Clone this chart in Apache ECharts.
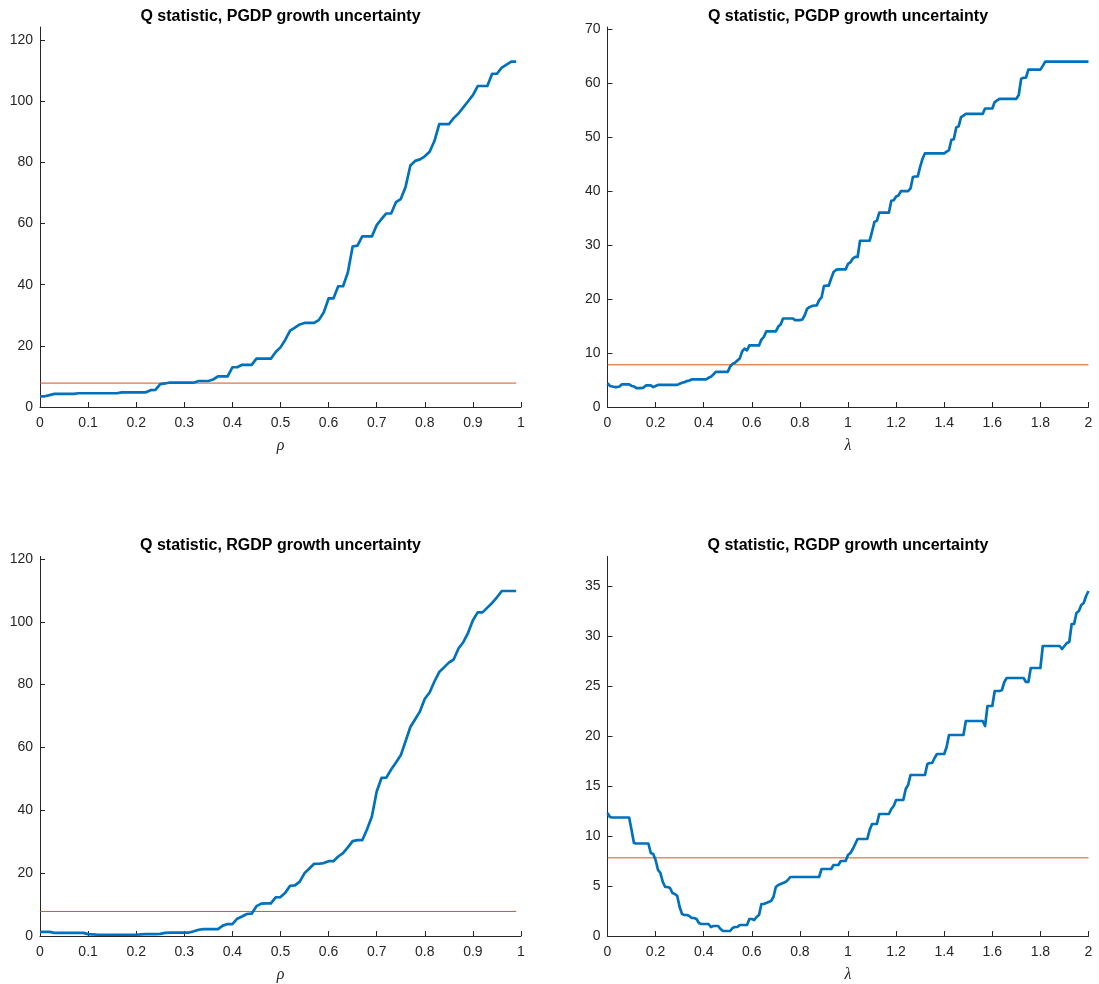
<!DOCTYPE html>
<html>
<head>
<meta charset="utf-8">
<script src="https://cdn.jsdelivr.net/npm/echarts@6/dist/echarts.min.js"></script>
<style>
  html, body { margin: 0; padding: 0; background: #ffffff; }
  #chart { width: 1099px; height: 984px; }
</style>
</head>
<body>
<div id="chart"></div>
<script>
// Q statistic as a function of the smoothing parameter, for two uncertainty measures.
// rho grid: 0, 0.01, ..., 0.99 ; lambda grid: 0, 0.01, ..., 2
const rhoStep = 0.01;
const lambdaStep = 0.01;

// 5% critical value of the Q statistic
const criticalValue = 7.815;

const pgdpRho = [
  3.5, 3.5, 3.9, 4.3, 4.3, 4.3, 4.3, 4.3, 4.5, 4.5,
  4.5, 4.5, 4.5, 4.5, 4.5, 4.5, 4.5, 4.8, 4.8, 4.8,
  4.8, 4.8, 4.8, 5.5, 5.6, 7.5, 7.7, 8.0, 8.0, 8.0,
  8.0, 8.0, 8.0, 8.5, 8.5, 8.5, 9.0, 10.0, 10.0, 10.0,
  13.0, 13.0, 13.8, 13.8, 13.8, 15.8, 15.8, 15.8, 15.8, 18.0,
  19.5, 22.0, 25.0, 26.0, 27.0, 27.5, 27.5, 27.5, 28.5, 31.0,
  35.5, 35.5, 39.5, 39.5, 44.0, 52.5, 52.8, 55.8, 55.8, 55.8,
  59.5, 61.5, 63.3, 63.3, 67.0, 68.0, 72.0, 79.0, 80.5, 81.0,
  82.0, 83.5, 87.0, 92.5, 92.5, 92.5, 94.5, 96.0, 98.0, 100.0,
  102.0, 105.0, 105.0, 105.0, 109.0, 109.0, 111.0, 112.0, 113.0, 113.0
];

const pgdpLambda = [
  4.4, 3.9, 3.8, 3.7, 3.7, 3.8, 4.2, 4.2, 4.2, 4.2,
  3.9, 3.8, 3.5, 3.5, 3.5, 3.6, 4.0, 4.0, 4.0, 3.7,
  3.9, 4.1, 4.1, 4.1, 4.1, 4.1, 4.1, 4.1, 4.1, 4.1,
  4.3, 4.5, 4.6, 4.8, 4.9, 5.1, 5.1, 5.1, 5.1, 5.1,
  5.1, 5.1, 5.4, 5.6, 6.0, 6.5, 6.5, 6.5, 6.5, 6.5,
  6.5, 7.5, 8.0, 8.2, 8.6, 9.0, 10.3, 10.8, 10.5, 11.4,
  11.4, 11.4, 11.4, 11.4, 12.5, 13.0, 14.0, 14.0, 14.0, 14.0,
  14.0, 14.9, 15.3, 16.4, 16.4, 16.4, 16.4, 16.4, 16.1, 16.1,
  16.1, 16.2, 17.0, 18.2, 18.5, 18.7, 18.8, 18.8, 19.8, 20.3,
  22.4, 22.5, 22.5, 23.8, 25.0, 25.4, 25.5, 25.5, 25.5, 25.5,
  26.5, 26.8, 27.5, 27.8, 27.8, 30.8, 30.8, 30.8, 30.8, 30.8,
  32.5, 34.3, 34.5, 36.0, 36.0, 36.0, 36.0, 36.0, 38.2, 38.3,
  39.0, 39.2, 40.0, 40.0, 40.0, 40.0, 40.5, 42.6, 42.7, 42.7,
  44.5, 46.0, 47.0, 47.0, 47.0, 47.0, 47.0, 47.0, 47.0, 47.0,
  47.0, 47.3, 47.6, 49.5, 49.6, 51.8, 52.0, 53.7, 54.0, 54.3,
  54.3, 54.3, 54.3, 54.3, 54.3, 54.3, 54.3, 55.3, 55.3, 55.3,
  55.3, 56.5, 56.8, 57.1, 57.1, 57.1, 57.1, 57.1, 57.1, 57.1,
  57.1, 57.8, 60.8, 61.0, 61.0, 62.5, 62.5, 62.5, 62.5, 62.5,
  62.5, 63.2, 64.0, 64.0, 64.0, 64.0, 64.0, 64.0, 64.0, 64.0,
  64.0, 64.0, 64.0, 64.0, 64.0, 64.0, 64.0, 64.0, 64.0, 64.0,
  64.0
];

const rgdpRho = [
  1.3, 1.3, 1.3, 1.0, 1.0, 1.0, 1.0, 1.0, 1.0, 1.0,
  0.6, 0.5, 0.4, 0.4, 0.4, 0.4, 0.4, 0.4, 0.4, 0.4,
  0.4, 0.5, 0.6, 0.6, 0.6, 0.7, 1.0, 1.1, 1.1, 1.1,
  1.1, 1.1, 1.5, 2.0, 2.2, 2.2, 2.2, 2.2, 3.3, 3.8,
  3.8, 5.5, 6.2, 7.0, 7.1, 9.5, 10.3, 10.4, 10.4, 12.3,
  12.4, 13.8, 16.0, 16.1, 17.3, 20.0, 21.5, 23.0, 23.0, 23.2,
  23.8, 23.8, 25.3, 26.4, 28.2, 30.2, 30.5, 30.5, 34.0, 38.0,
  46.0, 50.3, 50.4, 53.0, 55.2, 57.5, 62.0, 66.5, 69.0, 71.5,
  75.5, 77.5, 81.0, 84.0, 85.5, 87.0, 88.0, 91.5, 93.5, 96.5,
  100.5, 103.0, 103.0, 104.5, 106.0, 107.8, 109.8, 109.8, 109.8, 109.8
];

const rgdpLambda = [
  12.3, 11.9, 11.85, 11.85, 11.85, 11.85, 11.85, 11.85, 11.85, 11.85,
  10.6, 9.3, 9.25, 9.25, 9.25, 9.25, 9.25, 9.25, 8.3, 8.2,
  7.6, 6.6, 6.3, 5.4, 4.9, 4.9, 4.8, 4.3, 4.2, 4.0,
  2.9, 2.2, 2.1, 2.1, 2.0, 1.8, 1.8, 1.7, 1.3, 1.2,
  1.2, 1.2, 1.2, 0.9, 1.0, 1.0, 1.0, 0.7, 0.5, 0.5,
  0.5, 0.5, 0.8, 0.9, 0.9, 1.1, 1.1, 1.1, 1.1, 1.7,
  1.7, 1.6, 1.9, 2.1, 3.2, 3.2, 3.3, 3.4, 3.5, 3.9,
  4.9, 5.1, 5.2, 5.3, 5.4, 5.6, 5.9, 5.9, 5.9, 5.9,
  5.9, 5.9, 5.9, 5.9, 5.9, 5.9, 5.9, 5.9, 5.9, 6.7,
  6.7, 6.7, 6.7, 6.7, 7.1, 7.1, 7.1, 7.5, 7.5, 7.5,
  8.1, 8.3, 8.7, 9.2, 9.7, 9.7, 9.7, 9.7, 9.7, 10.6,
  11.2, 11.2, 11.2, 12.2, 12.2, 12.2, 12.2, 12.2, 12.7, 13.0,
  13.6, 13.6, 13.6, 13.6, 14.7, 15.1, 16.1, 16.1, 16.1, 16.1,
  16.1, 16.1, 16.1, 17.2, 17.3, 17.3, 17.8, 18.2, 18.2, 18.2,
  18.2, 18.9, 20.1, 20.1, 20.1, 20.1, 20.1, 20.1, 20.1, 21.5,
  21.5, 21.5, 21.5, 21.5, 21.5, 21.5, 21.5, 21.0, 23.0, 23.0,
  23.0, 24.5, 24.5, 24.5, 24.6, 25.4, 25.8, 25.8, 25.8, 25.8,
  25.8, 25.8, 25.8, 25.8, 25.4, 25.4, 26.8, 26.8, 26.8, 26.8,
  26.8, 29.0, 29.0, 29.0, 29.0, 29.0, 29.0, 29.0, 29.0, 28.7,
  29.0, 29.3, 29.4, 31.2, 31.2, 32.3, 32.5, 33.1, 33.3, 34.0,
  34.5
];

// Tick marks and labels on each axis
const rhoTicks = [0, 0.1, 0.2, 0.3, 0.4, 0.5, 0.6, 0.7, 0.8, 0.9, 1];
const lambdaTicks = [0, 0.2, 0.4, 0.6, 0.8, 1, 1.2, 1.4, 1.6, 1.8, 2];
const yTicksPgdpRho = [0, 20, 40, 60, 80, 100, 120];
const yTicksPgdpLambda = [0, 10, 20, 30, 40, 50, 60, 70];
const yTicksRgdpRho = [0, 20, 40, 60, 80, 100, 120];
const yTicksRgdpLambda = [0, 5, 10, 15, 20, 25, 30, 35];

const titlePgdp = 'Q statistic, PGDP growth uncertainty';
const titleRgdp = 'Q statistic, RGDP growth uncertainty';

const INK = '#262626';
const SANS = '"Liberation Sans", Arial, Helvetica, sans-serif';

function toPairs(values, step) {
  return values.map((v, i) => [+(i * step).toFixed(2), v]);
}

// panel frames (pixels)
const frames = [
  { left: 40,    top: 27,    width: 481, height: 380 },
  { left: 607.5, top: 27,    width: 481, height: 380 },
  { left: 40,    top: 556.5, width: 481, height: 380 },
  { left: 607.5, top: 556.5, width: 481, height: 380 }
];

const panels = [
  { title: titlePgdp, values: pgdpRho,    step: rhoStep,    xMax: 1, xTicks: rhoTicks,    xName: 'ρ', yTicks: yTicksPgdpRho },
  { title: titlePgdp, values: pgdpLambda, step: lambdaStep, xMax: 2, xTicks: lambdaTicks, xName: 'λ', yTicks: yTicksPgdpLambda },
  { title: titleRgdp, values: rgdpRho,    step: rhoStep,    xMax: 1, xTicks: rhoTicks,    xName: 'ρ', yTicks: yTicksRgdpRho },
  { title: titleRgdp, values: rgdpLambda, step: lambdaStep, xMax: 2, xTicks: lambdaTicks, xName: 'λ', yTicks: yTicksRgdpLambda }
];

const option = {
  backgroundColor: '#ffffff',
  animation: false,
  title: [],
  grid: [],
  xAxis: [],
  yAxis: [],
  series: []
};

panels.forEach((p, k) => {
  const f = frames[k];
  option.grid.push({ left: f.left, top: f.top, width: f.width, height: f.height, containLabel: false });
  option.title.push({
    text: p.title,
    left: f.left + f.width / 2,
    top: f.top - 18.5,
    textAlign: 'center',
    padding: 0,
    textStyle: { fontFamily: SANS, fontSize: 16, fontWeight: 'bold', color: '#000000' }
  });
  // y-limit at 110% of the curve's maximum
  const yMax = 1.1 * Math.max(...p.values);
  const xEnd = +((p.values.length - 1) * p.step).toFixed(2);
  option.xAxis.push({
    gridIndex: k,
    type: 'value',
    min: 0,
    max: p.xMax,
    name: p.xName,
    nameLocation: 'middle',
    nameGap: 31,
    nameTextStyle: { fontFamily: '"Liberation Serif", "DejaVu Serif", serif', fontStyle: 'italic', fontSize: 16, color: INK },
    axisLine: { show: true, onZero: false, lineStyle: { color: INK, width: 1 } },
    axisTick: { show: true, inside: true, length: 5, customValues: p.xTicks, lineStyle: { color: INK, width: 1 } },
    axisLabel: { customValues: p.xTicks, color: INK, fontFamily: SANS, fontSize: 14, margin: 9 },
    splitLine: { show: false }
  });
  option.yAxis.push({
    gridIndex: k,
    type: 'value',
    min: 0,
    max: yMax,
    axisLine: { show: true, onZero: false, lineStyle: { color: INK, width: 1 } },
    axisTick: { show: true, inside: true, length: 5, customValues: p.yTicks, lineStyle: { color: INK, width: 1 } },
    axisLabel: { customValues: p.yTicks, color: INK, fontFamily: SANS, fontSize: 14, margin: 7 },
    splitLine: { show: false }
  });
  option.series.push({
    type: 'line',
    xAxisIndex: k,
    yAxisIndex: k,
    data: [[0, criticalValue], [xEnd, criticalValue]],
    showSymbol: false,
    symbol: 'none',
    lineStyle: { color: '#D95319', width: 1 },
    z: 2,
    silent: true
  });
  option.series.push({
    type: 'line',
    xAxisIndex: k,
    yAxisIndex: k,
    data: toPairs(p.values, p.step),
    showSymbol: false,
    symbol: 'none',
    lineStyle: { color: '#0072BD', width: 2.7, join: 'round' },
    z: 3,
    silent: true
  });
});

const chart = echarts.init(document.getElementById('chart'), null, { renderer: 'canvas' });
chart.setOption(option);
</script>
</body>
</html>
